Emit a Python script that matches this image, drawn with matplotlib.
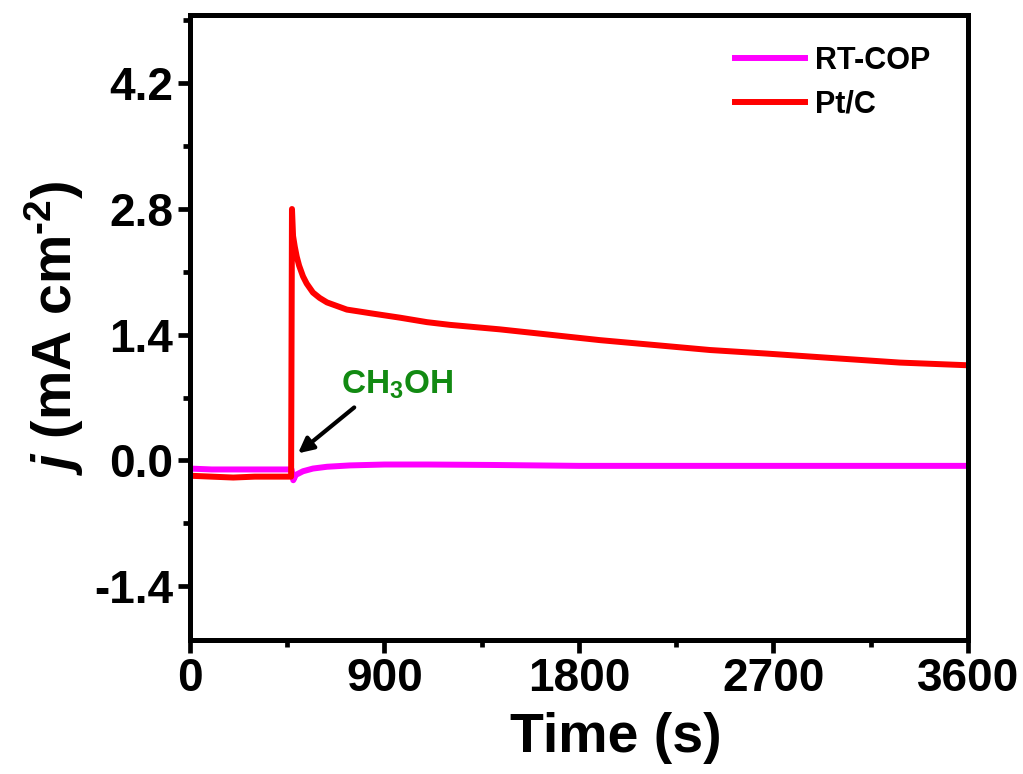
import matplotlib
matplotlib.use("Agg")
import matplotlib.pyplot as plt
from matplotlib.ticker import MultipleLocator

plt.rcParams["font.family"] = ["Liberation Sans", "DejaVu Sans"]
plt.rcParams["font.weight"] = "bold"
plt.rcParams["axes.labelweight"] = "bold"
plt.rcParams["mathtext.fontset"] = "custom"
plt.rcParams["mathtext.rm"] = "Liberation Sans:bold"
plt.rcParams["mathtext.it"] = "Liberation Sans:bold:italic"
plt.rcParams["mathtext.bf"] = "Liberation Sans:bold"

# Pt/C chronoamperometry (methanol added at ~470 s)
t_ptc = [0, 100, 200, 300, 400, 468, 472, 475, 477, 485, 494, 505, 523, 540,
         569, 600, 634, 680, 726, 780, 833, 972, 1097, 1203, 1434, 1666, 1897,
         2129, 2406, 2670, 2975, 3285, 3600]
j_ptc = [-0.17, -0.18, -0.19, -0.18, -0.18, -0.18, 2.80, 2.62, 2.50, 2.38, 2.27,
         2.17, 2.05, 1.97, 1.87, 1.81, 1.76, 1.72, 1.68, 1.66, 1.64, 1.59, 1.54,
         1.51, 1.46, 1.40, 1.34, 1.29, 1.23, 1.19, 1.14, 1.09, 1.06]

# RT-COP
t_rt = [0, 100, 200, 300, 400, 470, 478, 490, 523, 569, 634, 740, 900, 1100,
        1400, 1800, 2200, 2700, 3200, 3600]
j_rt = [-0.09, -0.10, -0.10, -0.10, -0.10, -0.10, -0.22, -0.16, -0.12, -0.09,
        -0.07, -0.055, -0.045, -0.045, -0.05, -0.06, -0.06, -0.06, -0.06, -0.06]

x_ticks = [0, 900, 1800, 2700, 3600]
y_ticks = [-1.4, 0.0, 1.4, 2.8, 4.2]

fig = plt.figure(figsize=(10.23, 7.74), dpi=100)
ax = fig.add_axes([0.1857, 0.173, 0.7605, 0.8076])

ax.plot(t_rt, j_rt, color="#ff00ff", lw=4.3, label="RT-COP", solid_joinstyle="round")
ax.plot(t_ptc, j_ptc, color="#ff0000", lw=4.3, label="Pt/C", solid_joinstyle="round")

ax.set_xlim(0, 3600)
ax.set_ylim(-2.0, 4.96)
ax.set_xticks(x_ticks)
ax.set_yticks(y_ticks)
ax.set_yticklabels([f"{v:.1f}" for v in y_ticks])
ax.xaxis.set_minor_locator(MultipleLocator(450))
ax.yaxis.set_minor_locator(MultipleLocator(0.7))

for s in ax.spines.values():
    s.set_linewidth(3.6)
ax.tick_params(which="major", direction="out", length=9, width=3.4, labelsize=33, pad=3)
ax.tick_params(which="minor", direction="out", length=5, width=3.4)
ax.tick_params(top=False, right=False, which="both")

ax.set_xlabel("Time (s)", fontsize=40, labelpad=0)
ax.xaxis.set_label_coords(0.548, -0.115)
ax.set_ylabel(r"$j$ (mA cm$^{\text{-2}}$)", fontsize=40, labelpad=6)

ax.annotate("", xy=(490, 0.06), xytext=(770, 0.61),
            arrowprops=dict(arrowstyle="-|>,head_length=0.9,head_width=0.45",
                            color="black", lw=3))
ax.text(700, 0.84, r"CH$_{\mathbf{3}}$OH", color="#128a12", fontsize=24,
        ha="left", va="center")

leg = ax.legend(loc="upper right", frameon=False, fontsize=22, handlelength=2.3,
                handletextpad=0.3, labelspacing=0.45, borderaxespad=0, borderpad=0,
                bbox_to_anchor=(0.951, 0.951))

fig.savefig("out.png", dpi=100)
